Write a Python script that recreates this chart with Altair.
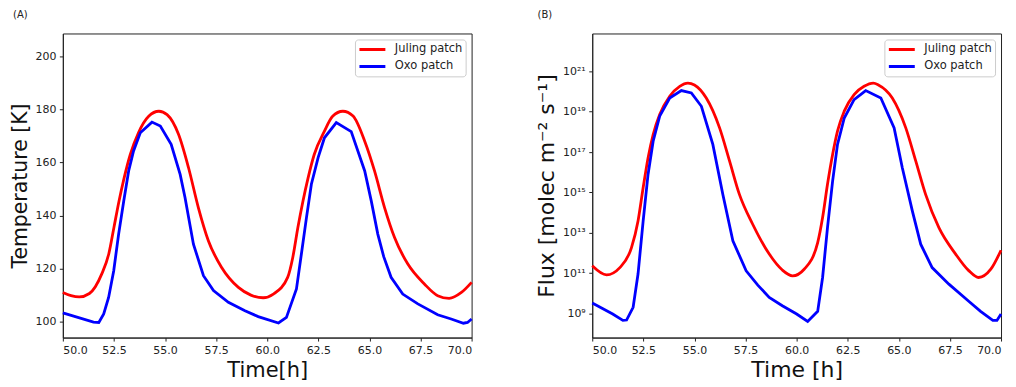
import altair as alt
import pandas as pd

# ---- Panel A: temperature [K] ----
t_jul_A = [50.0, 50.4, 50.8, 51.3, 51.9, 52.25, 52.5, 52.75, 53.0, 53.3, 53.7, 54.2, 54.7, 55.1, 55.66,
           56.15, 56.63, 57.12, 57.77, 58.59, 59.2, 59.8, 60.3, 61.0, 61.25, 61.5, 61.75, 62.0, 62.3,
           62.8, 63.2, 63.7, 64.2, 64.77, 65.25, 65.74, 66.23, 66.88, 67.69, 68.34, 68.9, 69.5, 70.0]
T_jul = [111.0, 109.8, 109.3, 110.6, 117.9, 125.6, 135.5, 145.5, 154.2, 163.0, 171.2, 177.4, 179.3, 178.0,
         170.6, 158.0, 143.0, 130.5, 120.4, 112.9, 110.0, 109.0, 110.4, 116.7, 124.2, 135.5, 145.5, 154.2,
         163.0, 171.8, 177.4, 179.3, 177.5, 168.0, 156.8, 143.0, 131.7, 121.7, 114.2, 109.8, 108.8, 111.0,
         114.8]

t_oxo_A = [50.0, 51.5, 51.76, 52.0, 52.24, 52.49, 52.73, 52.98, 53.22, 53.46, 53.79, 54.36, 54.77, 55.3,
           55.74, 55.98, 56.39, 56.88, 57.37, 58.1, 58.91, 59.56, 60.55, 60.94, 61.43, 61.67, 61.92,
           62.16, 62.49, 62.8, 63.38, 64.11, 64.77, 65.09, 65.41, 65.7, 66.06, 66.63, 67.37, 68.34,
           69.0, 69.6, 69.8, 70.0]
T_oxo = [103.3, 99.8, 99.7, 102.9, 109.1, 119.2, 133.0, 145.5, 156.8, 164.3, 171.2, 175.2, 173.7, 166.8,
         155.5, 146.7, 129.2, 117.3, 111.7, 107.3, 104.1, 101.9, 99.5, 101.6, 112.3, 125.4, 139.2, 151.8,
         161.8, 169.3, 175.0, 171.6, 156.8, 145.5, 133.0, 124.5, 116.7, 110.4, 106.7, 102.6, 101.0, 99.4,
         99.7, 101.0]

# ---- Panel B: flux, log10 of molec m^-2 s^-1 ----
t_jul_B = [50.0, 50.7, 51.35, 51.92, 52.24, 52.49, 52.73, 52.98, 53.3, 53.79, 54.28, 54.68, 55.0, 55.58,
           56.23, 56.72, 57.2, 57.85, 58.66, 59.3, 59.8, 60.38, 61.03, 61.27, 61.51, 61.76, 62.0, 62.33,
           62.81, 63.3, 63.75, 64.0, 64.68, 65.34, 65.83, 66.31, 66.96, 67.78, 68.42, 68.9, 69.5, 70.0]
logF_jul = [11.36, 10.91, 11.27, 12.26, 13.58, 15.23, 16.71, 17.87, 18.86, 19.77, 20.26, 20.42, 20.33,
            19.68, 18.2, 16.55, 14.9, 13.42, 11.94, 11.15, 10.86, 11.2, 12.51, 13.75, 15.4, 16.88, 18.04,
            19.03, 19.85, 20.26, 20.42, 20.33, 19.68, 18.2, 16.55, 14.9, 13.25, 11.94, 11.12, 10.78, 11.19,
            12.13]

t_oxo_B = [50.0, 51.0, 51.5, 51.68, 52.0, 52.24, 52.49, 52.73, 52.98, 53.3, 53.79, 54.36, 54.85, 55.34,
           55.9, 56.39, 56.88, 57.53, 58.1, 58.66, 59.3, 60.0, 60.54, 61.03, 61.27, 61.51, 61.76, 62.0,
           62.33, 62.81, 63.38, 64.12, 64.77, 65.17, 65.66, 66.07, 66.63, 67.45, 68.42, 69.0, 69.6,
           69.8, 70.0]
logF_oxo = [9.51, 8.97, 8.65, 8.67, 9.30, 10.95, 13.58, 15.89, 17.54, 18.78, 19.68, 20.05, 19.93, 19.27,
            17.38, 14.9, 12.6, 11.11, 10.4, 9.79, 9.38, 8.97, 8.6, 9.1, 10.78, 13.25, 15.56, 17.38, 18.69,
            19.6, 20.05, 19.68, 18.2, 16.22, 14.08, 12.43, 11.27, 10.45, 9.6, 9.1, 8.65, 8.65, 8.97]

series = ["Juling patch", "Oxo patch"]
colors = ["#ff0000", "#0000ff"]
x_ticks = [50.0, 52.5, 55.0, 57.5, 60.0, 62.5, 65.0, 67.5, 70.0]
yA_ticks = [100, 120, 140, 160, 180, 200]
yB_ticks = [1e9, 1e11, 1e13, 1e15, 1e17, 1e19, 1e21]

dfA = pd.concat([
    pd.DataFrame({"t": t_jul_A, "v": T_jul, "s": series[0], "o": range(len(t_jul_A))}),
    pd.DataFrame({"t": t_oxo_A, "v": T_oxo, "s": series[1], "o": range(len(t_oxo_A))}),
])
dfB = pd.concat([
    pd.DataFrame({"t": t_jul_B, "v": [10 ** e for e in logF_jul], "s": series[0], "o": range(len(t_jul_B))}),
    pd.DataFrame({"t": t_oxo_B, "v": [10 ** e for e in logF_oxo], "s": series[1], "o": range(len(t_oxo_B))}),
])

color = alt.Color("s:N", scale=alt.Scale(domain=series, range=colors),
                  legend=alt.Legend(title=None, orient="top-right"))

sup = "['⁰','¹','²','³','⁴','⁵','⁶','⁷','⁸','⁹']"
e = "round(log(datum.value)/LN10)"
label_expr = f"'10' + ({e} >= 10 ? {sup}[floor({e}/10)] : '') + {sup}[{e} % 10]"

W, H = 410, 305


def panel(df, label, xtitle, xsize, yenc):
    base = alt.Chart(df, title=alt.TitleParams(label, anchor="start", fontSize=10, fontWeight="normal",
                                                offset=14, dx=2)).encode(
        x=alt.X("t:Q", scale=alt.Scale(domain=[50, 70], nice=False),
                axis=alt.Axis(values=x_ticks, format=".1f", title=xtitle, titleFontSize=xsize)),
        y=yenc,
        color=color,
        order="o:Q",
    )
    smooth = base.mark_line(strokeWidth=2.8, interpolate="monotone").transform_filter(
        alt.datum.s == series[0])
    linear = base.mark_line(strokeWidth=2.8).transform_filter(alt.datum.s == series[1])
    return alt.layer(smooth, linear).properties(width=W, height=H)


chartA = panel(dfA, "(A)", "Time[h]", 21,
               alt.Y("v:Q", scale=alt.Scale(domain=[94, 208.6], nice=False, zero=False),
                     axis=alt.Axis(values=yA_ticks, title="Temperature [K]", titleFontSize=20.5)))
chartB = panel(dfB, "(B)", "Time [h]", 22,
               alt.Y("v:Q", scale=alt.Scale(type="log", domain=[10 ** 7.8, 10 ** 22.88], nice=False),
                     axis=alt.Axis(values=yB_ticks, labelExpr=label_expr,
                                   title="Flux [molec m⁻² s⁻¹]", titleFontSize=22)))

chart = alt.hconcat(chartA, chartB, spacing=56).resolve_legend(color="independent").resolve_scale(
    color="independent"
).properties(padding={"left": 2, "top": 0, "right": 0, "bottom": 0}).configure(
    font="DejaVu Sans",
).configure_view(
    stroke="#222", strokeWidth=1,
).configure_axis(
    grid=False, domainColor="#222", tickColor="#222", tickSize=3.5, labelPadding=3.5,
    labelFont="DejaVu Sans", labelFontSize=11, labelColor="#222",
    titleFont="DejaVu Sans", titleFontWeight="normal", titleColor="#111", titlePadding=4,
).configure_legend(
    orient="top-right", offset=6, strokeColor="#cccccc", fillColor="white", cornerRadius=3,
    padding=3, symbolType="stroke", symbolStrokeWidth=3, symbolSize=676, clipHeight=14,
    labelFont="DejaVu Sans", labelFontSize=11.5, labelColor="#222", labelOffset=8, rowPadding=3,
).configure_title(font="DejaVu Sans", color="#222")

chart.save("out.html", embed_options={"renderer": "svg", "actions": False})
